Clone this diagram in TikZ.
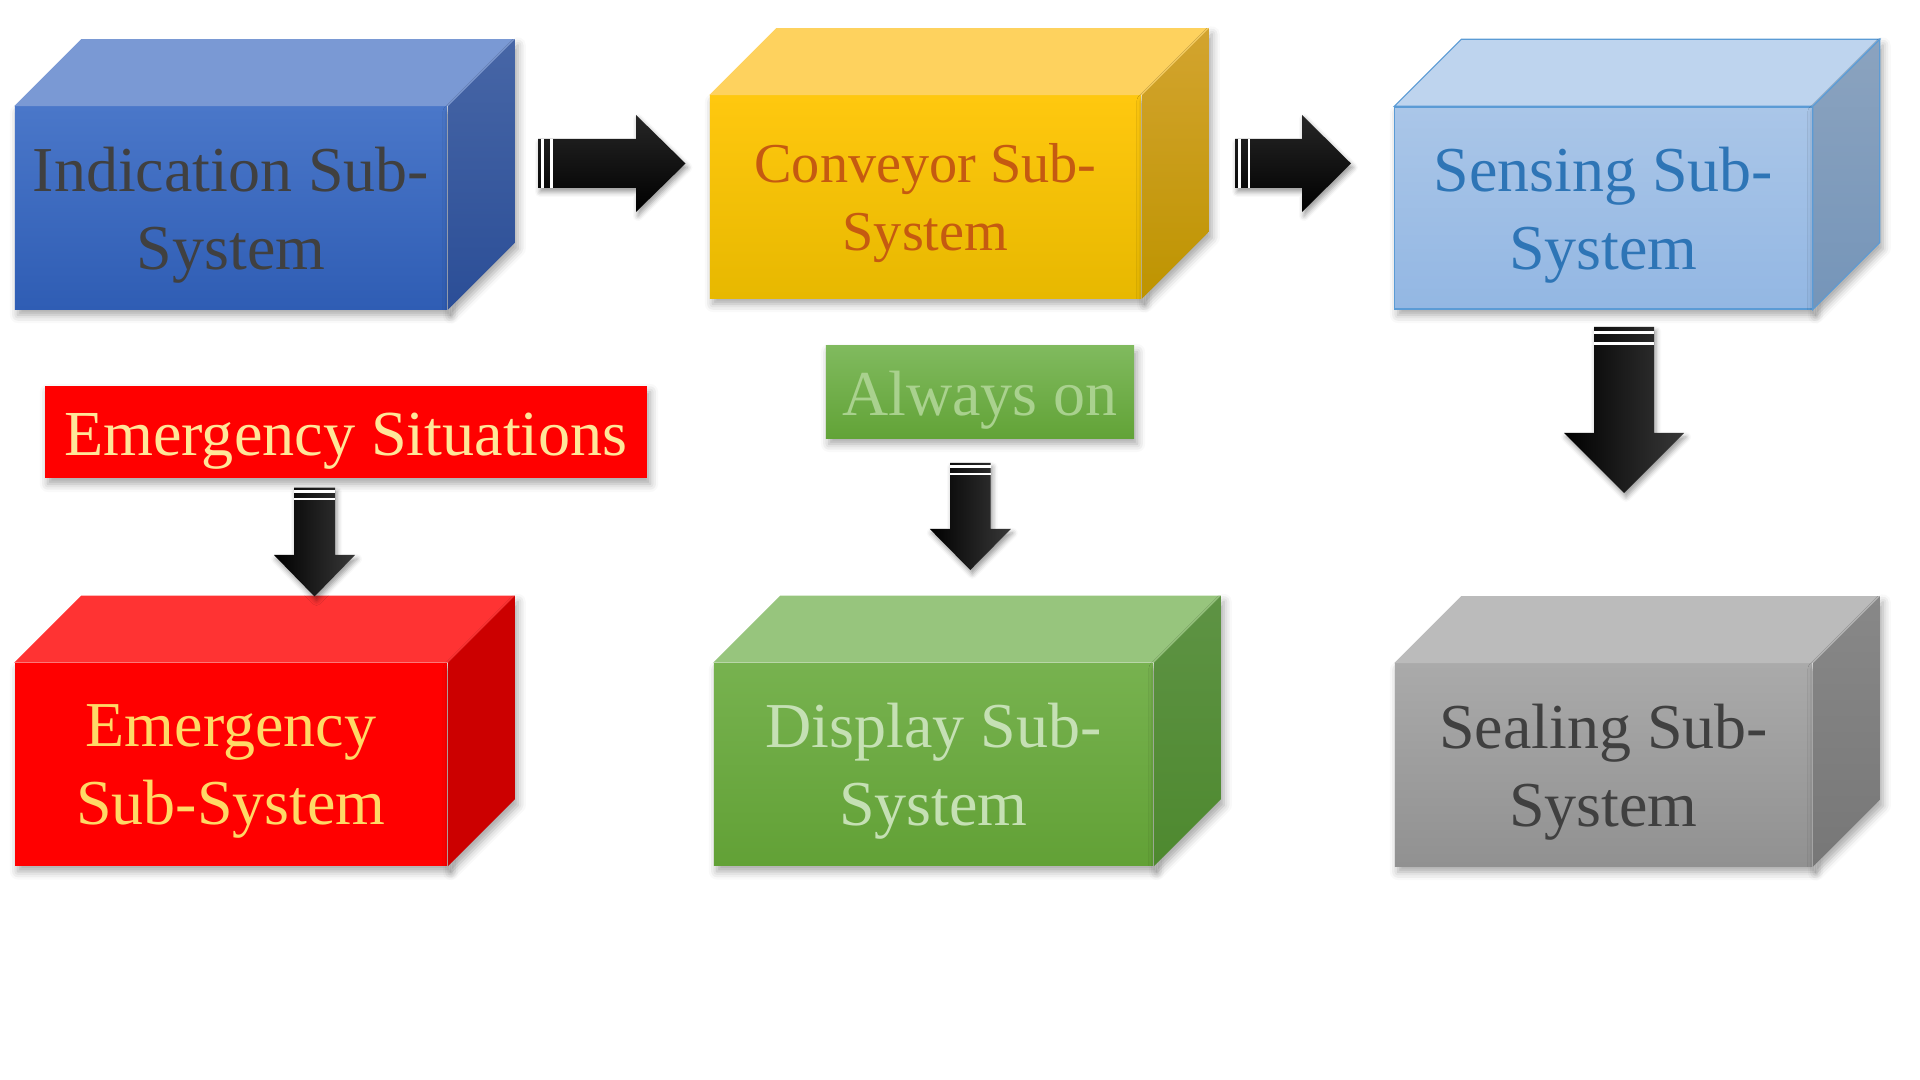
\documentclass[tikz,border=0pt]{standalone}
\usepackage{fontspec}
\setmainfont{Liberation Serif}
\usepackage{tikz}
\usetikzlibrary{calc, shadows.blur}

\definecolor{textGrey}{HTML}{404040}
\definecolor{indFrontA}{HTML}{4A77C9}
\definecolor{indFrontB}{HTML}{2F5DB4}
\definecolor{indTop}{HTML}{7A99D4}
\definecolor{indSideA}{HTML}{4766A6}
\definecolor{indSideB}{HTML}{2B4E97}
\definecolor{conFrontA}{HTML}{FFC80F}
\definecolor{conFrontB}{HTML}{E7B800}
\definecolor{conTop}{HTML}{FED25E}
\definecolor{conSideA}{HTML}{D3A42F}
\definecolor{conSideB}{HTML}{BE9400}
\definecolor{conText}{HTML}{C55A11}
\definecolor{senFrontA}{HTML}{AAC6E8}
\definecolor{senFrontB}{HTML}{93B7E3}
\definecolor{senTop}{HTML}{BED4EE}
\definecolor{senSideA}{HTML}{8BA3BF}
\definecolor{senSideB}{HTML}{7595B9}
\definecolor{senEdge}{HTML}{5B9BD5}
\definecolor{senText}{HTML}{2E75B6}
\definecolor{emFront}{HTML}{FF0000}
\definecolor{emTop}{HTML}{FF3333}
\definecolor{emSide}{HTML}{CC0000}
\definecolor{emText}{HTML}{FFD966}
\definecolor{emLabelText}{HTML}{FFE699}
\definecolor{disFrontA}{HTML}{77B24F}
\definecolor{disFrontB}{HTML}{62A136}
\definecolor{disTop}{HTML}{97C57D}
\definecolor{disSideA}{HTML}{5E9344}
\definecolor{disSideB}{HTML}{4E892F}
\definecolor{disText}{HTML}{C5E0B4}
\definecolor{onFrontA}{HTML}{80BA5E}
\definecolor{onFrontB}{HTML}{62A337}
\definecolor{onText}{HTML}{A9D18E}
\definecolor{sealFrontA}{HTML}{AAAAAA}
\definecolor{sealFrontB}{HTML}{919191}
\definecolor{sealTop}{HTML}{BBBBBB}
\definecolor{sealSideA}{HTML}{888888}
\definecolor{sealSideB}{HTML}{777777}

\tikzstyle{fShadow} = [blur shadow={shadow xshift=0.3mm, shadow yshift=-0.6mm, shadow blur radius=0.8mm, shadow opacity=35}]
\tikzstyle{fBox} = [rectangle, minimum height=2.02cm, inner sep=0pt, align=center, text depth=0pt, font=\fontsize{18.2pt}{22.1pt}\selectfont, fShadow]
\tikzstyle{fIndication} = [fBox, minimum width=4.32cm, top color=indFrontA, bottom color=indFrontB, text=textGrey]
\tikzstyle{fConveyor} = [fBox, minimum width=4.31cm, top color=conFrontA, bottom color=conFrontB, text=conText, font=\fontsize{16pt}{19.2pt}\selectfont]
\tikzstyle{fSensing} = [fBox, minimum width=4.17cm, top color=senFrontA, bottom color=senFrontB, text=senText, draw=senEdge, line width=0.12mm]
\tikzstyle{fEmergency} = [fBox, minimum width=4.32cm, fill=emFront, text=emText]
\tikzstyle{fDisplay} = [fBox, minimum width=4.39cm, top color=disFrontA, bottom color=disFrontB, text=disText]
\tikzstyle{fSealing} = [fBox, minimum width=4.17cm, top color=sealFrontA, bottom color=sealFrontB, text=textGrey]
\tikzstyle{fLabel} = [rectangle, minimum height=0.92cm, inner sep=0pt, text height=4.6mm, text depth=0pt, font=\fontsize{18.2pt}{22.1pt}\selectfont, fShadow]
\tikzstyle{fArrowH} = [top color=black!85, bottom color=black, blur shadow={shadow xshift=0.2mm, shadow yshift=-0.4mm, shadow blur radius=0.5mm, shadow opacity=40}]
\tikzstyle{fArrowV} = [left color=black, right color=black!78, blur shadow={shadow xshift=0.2mm, shadow yshift=-0.4mm, shadow blur radius=0.5mm, shadow opacity=40}]

% top and side faces of a block: node, top colour, side colours, extra options
\newcommand{\boxFaces}[5]{%
    \fill[#2, #5] (#1.north west) -- ++(67,-67) -- ($(#1.north east)+(67,-67)$) -- (#1.north east) -- cycle;
    \shade[top color=#3, bottom color=#4, fShadow, #5] (#1.north east) -- ++(67,-67) -- ($(#1.south east)+(67,-67)$) -- (#1.south east) -- cycle;
}
% block arrow to the right: name, tail x, centre y, neck x, tip x, shaft half, head half
\newcommand{\arrowRight}[7]{%
    \coordinate (#1) at (#2,#3);
    \path[fArrowH] (#2,#3-#6) -- (#4,#3-#6) -- (#4,#3-#7) -- (#5,#3) -- (#4,#3+#7) -- (#4,#3+#6) -- (#2,#3+#6) -- cycle;
    \fill[white] (#2+0.12*#6,#3-#6) rectangle (#2+0.24*#6,#3+#6);
    \fill[white] (#2+0.51*#6,#3-#6) rectangle (#2+0.61*#6,#3+#6);
}
% block arrow downwards: name, centre x, tail y, neck y, tip y, shaft half, head half
\newcommand{\arrowDown}[7]{%
    \coordinate (#1) at (#2,#3);
    \path[fArrowV] (#2-#6,#3) -- (#2+#6,#3) -- (#2+#6,#4) -- (#2+#7,#4) -- (#2,#5) -- (#2-#7,#4) -- (#2-#6,#4) -- cycle;
    \fill[white] (#2-#6,#3+0.12*#6) rectangle (#2+#6,#3+0.24*#6);
    \fill[white] (#2-#6,#3+0.51*#6) rectangle (#2+#6,#3+0.61*#6);
}

\begin{document}
\begin{tikzpicture}[x=0.01cm, y=-0.01cm]
    \useasboundingbox (0,0) rectangle (1920,1080);

    % top row
    \node (indication) [fIndication] at (231,208) {Indication Sub-\\System};
    \boxFaces{indication}{indTop}{indSideA}{indSideB}{}
    \node (conveyor) [fConveyor] at (925.5,197) {Conveyor Sub-\\System};
    \boxFaces{conveyor}{conTop}{conSideA}{conSideB}{}
    \node (sensing) [fSensing] at (1603.5,208) {Sensing Sub-\\System};
    \boxFaces{sensing}{senTop}{senSideA}{senSideB}{draw=senEdge, line width=0.12mm}

    % bottom row
    \node (emergency) [fEmergency] at (231,764.5) {Emergency\\Sub-System};
    \boxFaces{emergency}{emTop}{emSide}{emSide}{}
    \node (display) [fDisplay] at (933.5,764.5) {Display Sub-\\System};
    \boxFaces{display}{disTop}{disSideA}{disSideB}{}
    \node (sealing) [fSealing] at (1603.5,765) {Sealing Sub-\\System};
    \boxFaces{sealing}{sealTop}{sealSideA}{sealSideB}{}

    % labels
    \node (emSituations) [fLabel, fill=emFront, text=emLabelText, minimum width=6.02cm, font=\fontsize{18.25pt}{22pt}\selectfont] at (346,432) {Emergency Situations};
    \node (alwaysOn) [fLabel, top color=onFrontA, bottom color=onFrontB, text=onText, minimum width=3.08cm] at (980,392) {Always on};

    % block arrows
    \arrowRight{arrIndConv}{538}{163.5}{636}{685.5}{24.5}{48.5}
    \arrowRight{arrConvSens}{1235}{163.5}{1302}{1351}{24.5}{48.5}
    \arrowDown{arrEmergency}{314.5}{487.7}{555}{596.5}{20.5}{40.5}
    \arrowDown{arrAlwaysOn}{970.3}{463}{529}{570}{20.3}{40.5}
    \arrowDown{arrSensSeal}{1624}{327}{433}{493}{30}{60}
\end{tikzpicture}
\end{document}
